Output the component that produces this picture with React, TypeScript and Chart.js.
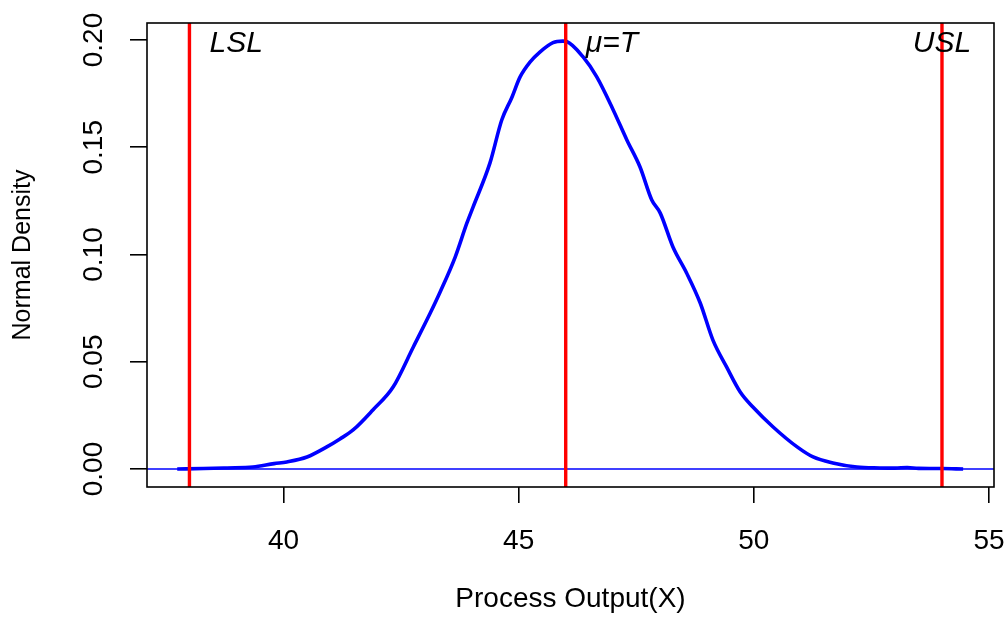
import React, { useEffect, useRef } from 'react';
import { Chart, registerables } from 'chart.js';

Chart.register(...registerables);

const curveX = [37.74, 38.3, 38.8, 39.35, 39.8, 40.07, 40.5, 40.92, 41.2, 41.48, 41.9, 42.33, 42.76, 43.12, 43.33, 43.65, 43.9, 44.03, 44.39, 44.64, 44.85, 45.03, 45.24, 45.45, 45.73, 45.94, 46.02, 46.37, 46.66, 47.01, 47.3, 47.58, 47.83, 48.01, 48.28, 48.57, 48.86, 49.13, 49.42, 49.71, 49.98, 50.41, 50.92, 51.26, 51.68, 52.19, 52.68, 53.0, 53.26, 53.5, 54.0, 54.45];
const curveY = [0.0, 0.0002, 0.0005, 0.0009, 0.0025, 0.0033, 0.0056, 0.0103, 0.014, 0.0182, 0.0275, 0.0382, 0.0569, 0.0727, 0.0825, 0.0988, 0.1147, 0.1221, 0.1427, 0.1627, 0.173, 0.1828, 0.1897, 0.1944, 0.1988, 0.1995, 0.1993, 0.1921, 0.1828, 0.1674, 0.1534, 0.1408, 0.1254, 0.1193, 0.1035, 0.0914, 0.0774, 0.0601, 0.0476, 0.0359, 0.0289, 0.0196, 0.0103, 0.0056, 0.0028, 0.0009, 0.0005, 0.0004, 0.0007, 0.0003, 0.0002, 0.0];

const specLimits = [38, 46, 54];
const specLabels = ['LSL', 'μ=T', 'USL'];
const xTicks = [40, 45, 50, 55];
const yTicks = [0, 0.05, 0.1, 0.15, 0.2];
const yTickLabels = ['0.00', '0.05', '0.10', '0.15', '0.20'];
const hLineValue = 0;
const labelLevel = 0.1945;

const X_MIN = 37.0976;
const X_MAX = 55.106;
const Y_MIN = -0.00839;
const Y_MAX = 0.20793;

const FONT = '"Liberation Sans", Arial, Helvetica, sans-serif';

const boxPlugin = {
  id: 'rbox',
  afterDraw(chart: any) {
    const { ctx, chartArea: a, scales } = chart;
    ctx.save();
    ctx.strokeStyle = '#000';
    ctx.lineWidth = 1.6;
    ctx.strokeRect(a.left, a.top, a.right - a.left, a.bottom - a.top);
    ctx.fillStyle = '#000';
    ctx.font = 'italic 30px ' + FONT;
    ctx.textBaseline = 'alphabetic';
    const yy = scales.y.getPixelForValue(labelLevel);
    specLimits.forEach((v, i) => {
      const px = scales.x.getPixelForValue(v);
      if (i === 2) {
        ctx.textAlign = 'center';
        ctx.fillText(specLabels[i], px, yy);
      } else {
        ctx.textAlign = 'left';
        ctx.fillText(specLabels[i], px + 20, yy);
      }
    });
    ctx.restore();
  },
};

export default function App() {
  const ref = useRef<HTMLCanvasElement>(null);

  useEffect(() => {
    if (!ref.current) return;
    const curve = curveX.map((x, i) => ({ x, y: curveY[i] }));
    const datasets: any[] = specLimits.map((v) => ({
      data: [
        { x: v, y: Y_MIN },
        { x: v, y: Y_MAX },
      ],
      borderColor: '#ff0000',
      borderWidth: 3.4,
      pointRadius: 0,
      order: 0,
    }));
    datasets.push({
      data: [
        { x: X_MIN, y: hLineValue },
        { x: X_MAX, y: hLineValue },
      ],
      borderColor: '#0000ff',
      borderWidth: 1.6,
      pointRadius: 0,
      order: 1,
    });
    datasets.push({
      data: curve,
      borderColor: '#0000ff',
      borderWidth: 3.6,
      pointRadius: 0,
      cubicInterpolationMode: 'monotone',
      order: 2,
    });

    const chart = new Chart(ref.current, {
      type: 'line',
      data: { datasets },
      options: {
        animation: false,
        responsive: false,
        layout: { padding: { top: 23, right: 13, left: 0, bottom: 0 } },
        plugins: { legend: { display: false }, tooltip: { enabled: false } },
        scales: {
          x: {
            type: 'linear',
            min: X_MIN,
            max: X_MAX,
            afterBuildTicks: (s: any) => {
              s.ticks = xTicks.map((v) => ({ value: v }));
            },
            afterFit: (s: any) => {
              s.height = 139;
              s.paddingLeft = 0;
              s.paddingRight = 0;
            },
            grid: { drawOnChartArea: false, drawTicks: true, tickLength: 16, color: '#000', lineWidth: 1.6 },
            border: { display: false },
            ticks: {
              color: '#000',
              font: { family: FONT, size: 28 },
              padding: 21,
              maxRotation: 0,
              minRotation: 0,
              autoSkip: false,
              callback: (v: any) => String(v),
            },
            title: {
              display: true,
              text: 'Process Output(X)',
              color: '#000',
              font: { family: FONT, size: 28 },
              padding: { top: 0, bottom: 10 },
            },
          },
          y: {
            type: 'linear',
            min: Y_MIN,
            max: Y_MAX,
            afterBuildTicks: (s: any) => {
              s.ticks = yTicks.map((v) => ({ value: v }));
            },
            afterFit: (s: any) => {
              s.width = 147;
              s.paddingTop = 0;
              s.paddingBottom = 0;
            },
            grid: { drawOnChartArea: false, drawTicks: true, tickLength: 17, color: '#000', lineWidth: 1.6 },
            border: { display: false },
            ticks: {
              color: '#000',
              font: { family: FONT, size: 28 },
              padding: 8,
              minRotation: 90,
              maxRotation: 90,
              crossAlign: 'center',
              autoSkip: false,
              callback: (_v: any, i: number) => yTickLabels[i],
            },
            title: {
              display: true,
              text: 'Normal Density',
              color: '#000',
              font: { family: FONT, size: 25 },
              padding: { top: 8, bottom: 0 },
            },
          },
        },
      },
      plugins: [boxPlugin],
    } as any);
    return () => chart.destroy();
  }, []);

  return (
    <div style={{ position: 'fixed', left: 0, top: 0, width: 1007, height: 626, background: '#fff' }}>
      <canvas ref={ref} width={1007} height={626} style={{ display: 'block' }} />
    </div>
  );
}
